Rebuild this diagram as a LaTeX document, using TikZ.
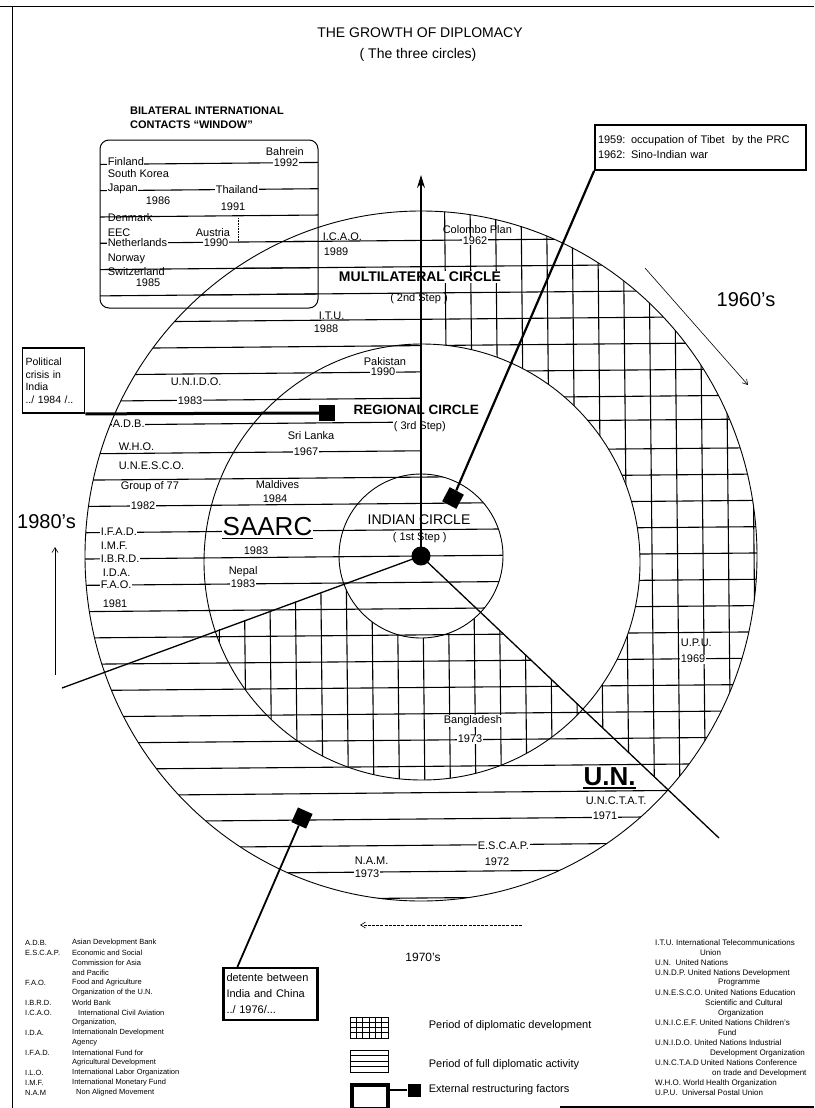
\documentclass[tikz,border=0pt]{standalone}
\usepackage{fontspec}
\setmainfont{Liberation Sans}
\usetikzlibrary{arrows.meta}
\begin{document}
\begin{tikzpicture}[x=1pt,y=-1pt,
 hatch/.style={line width=1.1pt},
 circ/.style={line width=0.9pt},
 diag/.style={line width=1.3pt},
 lb/.style={anchor=west, inner sep=0.6pt, font=\fontsize{11}{12}\selectfont},
 lbw/.style={lb, fill=white},
 leg/.style={anchor=west, inner sep=0pt, font=\fontsize{7.5}{8}\selectfont},
 legr/.style={anchor=west, inner sep=0pt, font=\fontsize{8}{9}\selectfont},
 sq/.style={fill=black, minimum size=16pt, inner sep=0pt},
 thinarrow/.style={line width=0.6pt, -{Straight Barb[length=5pt,width=6pt]}},
 ibox/.style={draw, line width=1.8pt, fill=white, align=left, inner sep=3pt}]
\useasboundingbox (0,0) rectangle (814,1108);
\fill[white] (0,0) rectangle (814,1108);
\coordinate (C) at (421,556);
\coordinate (LL) at (62,688);
\coordinate (LR) at (719,838);
\coordinate (Atop) at (421,175);
% frame
\draw[line width=1pt] (0,7) -- (814,7);
\draw[line width=1pt] (12,7) -- (12,1108);
\draw[line width=1.5pt] (560,1107) -- (814,1107);
% horizontal hatching in outer circle
\begin{scope}
\clip (C) ellipse [x radius=336pt, y radius=345pt];
\foreach \yy in {240.4,266.7,293,319.3,345.6,371.9,398.2,422,450.8,477.1,503.4,529.7,556,582.3,608.6,634.9,661.2,687.5,713.8,740.1,766.4,792.7,819,845.3,871.6,898}
  \draw[hatch] (0,{\yy+3.79}) -- (814,{\yy-3.54});
\end{scope}
% vertical hatching, outer sector
\begin{scope}
\clip (C) ellipse [x radius=336pt, y radius=345pt];
\clip (C) -- (1315,1402) -- (2000,1402) -- (2000,-500) -- (421,-500) -- cycle;
\foreach \j in {1,...,14}
  \draw[hatch] ({421+25.5*\j-2.5},150) -- ({421+25.5*\j+5.5},950);
\end{scope}
% vertical hatching, middle sector
\begin{scope}
\clip (422,562) circle [radius=218pt];
\clip (C) -- (-668,952) -- (-668,2000) -- (1315,2000) -- (1315,1402) -- cycle;
\foreach \j in {-9,...,6}
  \draw[hatch] ({421+25.5*\j-2.5},150) -- ({421+25.5*\j+5.5},950);
\end{scope}
% blank part of regional circle
\begin{scope}
\clip (C) -- (1315,1402) -- (2000,1402) -- (2000,-500) -- (421,-500) -- cycle;
\fill[white] (422,562) circle [radius=218pt];
\end{scope}
% inner circle
\fill[white] (C) circle [radius=82pt];
\begin{scope}
\clip (C) circle [radius=82pt];
\foreach \yy in {477.1,503.4,529.7,556,582.3,608.6,634.9}
  \draw[hatch] (0,{\yy+3.79}) -- (814,{\yy-3.54});
\end{scope}
% window lines
\begin{scope}
\clip (100,140) rectangle (318,308);
\foreach \yy in {161.5,187.8,214.1,240.4,266.7,293.0}
  \draw[hatch] (0,{\yy+3.79}) -- (814,{\yy-3.54});
\end{scope}
\draw[densely dotted, line width=0.6pt] (238,218) -- (238,242);
% titles
\node[font=\fontsize{14}{16}\selectfont, inner sep=0] (title) at (420,33) {THE GROWTH OF DIPLOMACY};
\node[font=\fontsize{14}{16}\selectfont, inner sep=0] (subtitle) at (418,55) {( The three circles)};
\node[anchor=west, inner sep=0, font=\fontsize{11}{12}\selectfont\bfseries] (bil1) at (130,111) {BILATERAL INTERNATIONAL};
\node[anchor=west, inner sep=0, font=\fontsize{11}{12}\selectfont\bfseries] (bil2) at (130,125) {CONTACTS ``WINDOW''};
\node[draw, line width=1pt, rounded corners=9pt, minimum width=218pt, minimum height=168pt, inner sep=0] (window) at (209,224) {};
% window labels
\node[lbw] (w1) at (107,162) {Finland};
\node[lb] (w2) at (265,152) {Bahrein};
\node[lbw] (w3) at (273,162.5) {1992};
\node[lb] (w4) at (107,174) {South Korea};
\node[lbw] (w5) at (107,189) {Japan};
\node[lbw] (w6) at (215,189.5) {Thailand};
\node[lb] (w7) at (220,207) {1991};
\node[lb] (w8) at (145,201) {1986};
\node[lb] (w9) at (107,218) {Denmark};
\node[lb] (w10) at (107,233) {EEC};
\node[lb] (w11) at (195,233) {Austria};
\node[lbw] (w12) at (107,243) {Netherlands};
\node[lbw] (w13) at (203,242.5) {1990};
\node[lb] (w14) at (107,259) {Norway};
\node[lb] (w15) at (107,272) {Switzerland};
\node[lb] (w16) at (135,283) {1985};
% outer circle labels
\node[lb] (icao) at (322,237) {I.C.A.O.};
\node[lb] (icaoy) at (323,252) {1989};
\node[lb] (colombo) at (442,230) {Colombo Plan};
\node[lbw] (colomboy) at (462,241) {1962};
\node[fill=white, inner sep=1pt, font=\fontsize{14}{16}\selectfont\bfseries] (multi) at (420,277) {MULTILATERAL CIRCLE};
\node[inner sep=0.5pt, font=\fontsize{11}{12}\selectfont] (step2) at (419,298.5) {( 2nd Step )};
\node[lb] (itu) at (318,316) {I.T.U.};
\node[lb] (ituy) at (313,329) {1988};
\node[font=\fontsize{20}{22}\selectfont, inner sep=0] (s60) at (746,300) {1960's};
\node[lb] (unido) at (170,382) {U.N.I.D.O.};
\node[lbw] (unidoy) at (177,401) {1983};
\node[lbw] (adb) at (112,424) {A.D.B.};
\node[lb] (who) at (118,447) {W.H.O.};
\node[lb] (unesco) at (118,466) {U.N.E.S.C.O.};
\node[lb] (g77) at (120,487) {Group of 77};
\node[lbw] (g77y) at (130,506) {1982};
\node[anchor=west, inner sep=0, font=\fontsize{20}{22}\selectfont] (s80) at (17,522) {1980's};
\node[lbw] (ifad) at (100,532) {I.F.A.D.};
\node[lb] (imf) at (100,546) {I.M.F.};
\node[lbw] (ibrd) at (100,559) {I.B.R.D.};
\node[lb] (ida) at (102,573) {I.D.A.};
\node[lbw] (fao) at (100,585) {F.A.O.};
\node[lb] (y1981) at (102,604) {1981};
% regional labels
\node[lb] (pak) at (363,362) {Pakistan};
\node[lbw] (paky) at (370,372) {1990};
\node[anchor=west, inner sep=0.5pt, font=\fontsize{13.5}{15}\selectfont\bfseries] (regional) at (353,410) {REGIONAL CIRCLE};
\node[lbw] (step3) at (393,427) {( 3rd Step)};
\node[lb] (srilanka) at (287,436) {Sri Lanka};
\node[lbw] (srilankay) at (293,452) {1967};
\node[lb] (maldives) at (255,485) {Maldives};
\node[lb] (maldivesy) at (262,499) {1984};
\node[anchor=west, fill=white, inner sep=0.5pt, font=\fontsize{26}{28}\selectfont] (saarc) at (222,527) {SAARC};
\draw[line width=1.5pt] ([yshift=-2.5pt]saarc.base west) -- ([yshift=-2.5pt]saarc.base east);
\node[lb] (saarcy) at (243,551) {1983};
\node[lb] (nepal) at (228,572) {Nepal};
\node[lbw] (nepaly) at (230,584) {1983};
\node[anchor=west, inner sep=0.5pt, font=\fontsize{14}{16}\selectfont] (indian) at (367,520) {INDIAN CIRCLE};
\node[lb] (step1) at (392,538) {( 1st Step )};
\node[lbw] (bangla) at (443,721) {Bangladesh};
\node[lbw] (banglay) at (457,739) {1973};
% U.N. labels
\node[lb] (upu) at (680,643) {U.P.U.};
\node[lbw] (upuy) at (680,659) {1969};
\node[anchor=west, inner sep=0.5pt, font=\fontsize{26}{28}\selectfont\bfseries] (un) at (583,777) {U.N.};
\draw[line width=1.6pt] ([yshift=-2pt]un.base west) -- ([yshift=-2pt]un.base east);
\node[lb] (unctat) at (585,801) {U.N.C.T.A.T.};
\node[lbw] (unctaty) at (592,816) {1971};
\node[lbw] (escap) at (477,846) {E.S.C.A.P.};
\node[lb] (escapy) at (484,862) {1972};
\node[lb] (nam) at (354,861) {N.A.M.};
\node[lbw] (namy) at (354,874) {1973};
\node[font=\fontsize{12}{14}\selectfont, inner sep=0] (s70) at (423,957) {1970's};
% circles and radial lines
\draw[circ] (C) ellipse [x radius=336pt, y radius=345pt];
\draw[circ] (422,562) circle [radius=218pt];
\draw[circ] (C) circle [radius=82pt];
\draw[diag] (C) -- (LL);
\draw[diag] (C) -- (LR);
\draw[line width=1.2pt, -{Stealth[length=13pt,width=8pt]}] (C) -- (Atop);
\node[circle, fill=black, minimum size=19pt, inner sep=0] (dot) at (C) {};
% period arrows
\coordinate (a60s) at (645,268); \coordinate (a60e) at (748,385);
\draw[thinarrow] (a60s) -- (a60e);
\coordinate (a80s) at (55,675); \coordinate (a80e) at (55,547);
\draw[thinarrow] (a80s) -- (a80e);
\coordinate (a70s) at (522,925); \coordinate (a70e) at (360,925);
\draw[thinarrow, dash pattern=on 3pt off 1.2pt] (a70s) -- (a70e);
% external factor boxes
\node[ibox, text width=205pt, minimum height=45pt, font=\fontsize{11}{15}\selectfont] (tibet) at (700.5,147.5) {1959: occupation of Tibet\ \ by the PRC\\1962: Sino-Indian war};
\node[sq, rotate=-28] (sqT) at (453,498) {};
\draw[line width=2.2pt] (tibet.south west) -- (sqT);
\node[ibox, text width=56pt, minimum height=65pt, font=\fontsize{10.5}{12.5}\selectfont] (pol) at (53.5,380.5) {Political\\crisis in\\India\\../ 1984 /..};
\node[sq] (sqP) at (327,413) {};
\draw[line width=3pt] (pol.south east) -- (sqP);
\node[ibox, line width=2.2pt, text width=88pt, minimum height=52pt, font=\fontsize{11}{16}\selectfont] (det) at (270.5,994) {detente between\\India and China\\../ 1976/...};
\node[sq, rotate=-24] (sqD) at (302,818) {};
\draw[line width=1.8pt] ([xshift=15pt]det.north west) -- (sqD);
% legend icons
\node[draw, line width=0.8pt, minimum width=38pt, minimum height=21pt, inner sep=0] (gicon) at (369,1027.5) {};
\foreach \i in {1,...,5} \draw[line width=0.6pt] ({350+6.33*\i},1017) -- ({350+6.33*\i},1038);
\foreach \i in {1,2,3} \draw[line width=0.6pt] (350,{1017+5.25*\i}) -- (388,{1017+5.25*\i});
\node[lb] (gtext) at (428,1026) {Period of diplomatic development};
\node[draw, line width=0.8pt, minimum width=38pt, minimum height=22pt, inner sep=0] (hicon) at (369,1061) {};
\foreach \yy in {1055.5,1061,1066.5} \draw[line width=0.6pt] (350,\yy) -- (388,\yy);
\node[lb] (htext) at (428,1065) {Period of full diplomatic activity};
\node[draw, line width=3.5pt, minimum width=36pt, minimum height=24pt, inner sep=0] (xicon) at (370,1097) {};
\node[sq, minimum size=13pt] (xsq) at (414,1090) {};
\draw[line width=1.2pt] (xicon.east |- xsq) -- (xsq);
\node[lb] (xtext) at (428,1090) {External restructuring factors};
% left legend
\foreach \ab/\de/\dx [count=\i from 0] in {A.D.B./Asian Development Bank/72, E.S.C.A.P./Economic and Social/72, /Commission for Asia/72, /and Pacific/72, F.A.O./Food and Agriculture/72, /Organization of the U.N./72, I.B.R.D./World Bank/72, I.C.A.O./International Civil Aviation/78, /{Organization,}/72, I.D.A./Internationaln Development/72, /Agency/72, I.F.A.D./International Fund for/72, /Agricultural Development/72, I.L.O./International Labor Organization/72, I.M.F./International Monetary Fund/72, N.A.M/Non Aligned Movement/76}
{
  \node[leg] (la\i) at (25,{943+10*\i}) {\ab};
  \node[leg] (ld\i) at (\dx,{943+10*\i}) {\de};
}
% right legend
\foreach \tx/\dx [count=\i from 0] in {I.T.U. International Telecommunications/655, Union/700, U.N.\ \ United Nations/655, U.N.D.P. United Nations Development/655, Programme/718, U.N.E.S.C.O. United Nations Education/655, Scientific and Cultural/705, Organization/718, U.N.I.C.E.F. United Nations Children's/655, Fund/718, U.N.I.D.O. United Nations Industrial/655, Development Organization/710, U.N.C.T.A.D United Nations Conference/655, on trade and Development/712, W.H.O. World Health Organization/655, U.P.U.\ \ Universal Postal Union/655}
{
  \node[legr] (r\i) at (\dx,{943+10*\i}) {\tx};
}
\end{tikzpicture}
\end{document}
